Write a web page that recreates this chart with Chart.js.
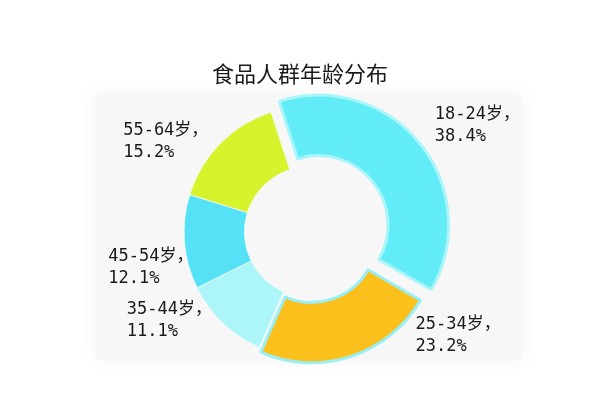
<!DOCTYPE html>
<html>
<head>
  <title>食品人群年龄分布</title>
  <script src="https://cdn.jsdelivr.net/npm/chart.js"></script>
  <style>
    html, body {
      margin: 0;
      padding: 0;
      background: #ffffff;
    }
    .wrap {
      width: 600px;
      height: 400px;
    }
  </style>
</head>
<body>
  <div class="wrap">
    <canvas id="chart" width="600" height="400"></canvas>
  </div>

  <script>
    // age groups and their share (%)
    const ageGroups = ['18-24岁', '25-34岁', '35-44岁', '45-54岁', '55-64岁'];
    const shares = [38.4, 23.2, 11.1, 12.1, 15.2];
    const chartTitle = '食品人群年龄分布';

    const sliceColors = ['#62ecf8', '#fcc01c', '#acf5f8', '#56e2f6', '#d6f32c'];
    const edgeColors = ['#a8f5fa', '#98eff6', '#e9fbfc', '#e9fbfc', '#f2fbe0'];

    // soft grey panel behind the ring + the title above it
    const panelPlugin = {
      id: 'panel',
      beforeDraw(chart) {
        const arc = chart.getDatasetMeta(0).data[0];
        if (!arc) return;
        const ctx = chart.ctx;
        const cx = arc.x, cy = arc.y;
        ctx.save();
        ctx.shadowColor = 'rgba(0,0,0,0.05)';
        ctx.shadowBlur = 18;
        ctx.fillStyle = '#f7f7f7';
        ctx.fillRect(cx - 214, cy - 138, 426, 265);
        ctx.restore();
      },
      afterDraw(chart) {
        const ctx = chart.ctx;
        ctx.save();
        ctx.font = '22px "Noto Sans CJK SC", sans-serif';
        ctx.fillStyle = '#1a1a1a';
        ctx.textAlign = 'center';
        ctx.textBaseline = 'middle';
        ctx.fillText(chartTitle, chart.width / 2, 74);
        ctx.restore();
      }
    };

    // text labels "xx-xx岁，" / "xx.x%" beside each slice
    const sliceLabels = {
      id: 'sliceLabels',
      afterDatasetsDraw(chart, args, opts) {
        const ctx = chart.ctx;
        const meta = chart.getDatasetMeta(0);
        ctx.save();
        ctx.font = opts.font;
        ctx.fillStyle = opts.color;
        ctx.textBaseline = 'middle';
        ctx.textAlign = 'left';
        meta.data.forEach((arc, i) => {
          const p = arc.getProps(['x', 'y', 'startAngle', 'endAngle', 'outerRadius', 'circumference']);
          const off = (arc.options.offset || 0) / 4;
          const fix = 1 - Math.sin(Math.min(Math.PI, p.circumference || 0));
          const push = off * (1 + fix);
          const mid = (p.startAngle + p.endAngle) / 2;
          const r = p.outerRadius + push;
          const ax = p.x + Math.cos(mid) * r;
          const ay = p.y + Math.sin(mid) * r;
          const lines = [chart.data.labels[i] + '，', shares[i].toFixed(1) + '%'];
          const w = Math.max(...lines.map(t => ctx.measureText(t).width));
          const n = opts.nudge[i];
          let left = ax + n[0];
          if (Math.cos(mid) < 0) left -= w;
          const cy = ay + n[1];
          ctx.fillText(lines[0], left, cy - opts.lineGap / 2);
          ctx.fillText(lines[1], left, cy + opts.lineGap / 2);
        });
        ctx.restore();
      }
    };

    new Chart(document.getElementById('chart'), {
      type: 'doughnut',
      data: {
        labels: ageGroups,
        datasets: [{
          data: shares,
          backgroundColor: sliceColors,
          borderColor: edgeColors,
          borderWidth: [3, 3, 1, 1, 1],
          offset: [45, 20, 0, 0, 0]
        }]
      },
      options: {
        responsive: false,
        animation: false,
        events: [],
        rotation: -18,
        radius: 126,
        cutout: '52%',
        layout: {
          padding: { left: 20, right: 0, top: 90, bottom: 26 }
        },
        plugins: {
          legend: { display: false },
          tooltip: { enabled: false },
          title: { display: false },
          sliceLabels: {
            font: '17px "DejaVu Sans Mono", "Noto Sans CJK SC", monospace',
            color: '#1a1a1a',
            lineGap: 22,
            nudge: [[15, -18], [65, -21], [-11, -2], [9, 26], [-12, -2]]
          }
        }
      },
      plugins: [panelPlugin, sliceLabels]
    });
  </script>
</body>
</html>
